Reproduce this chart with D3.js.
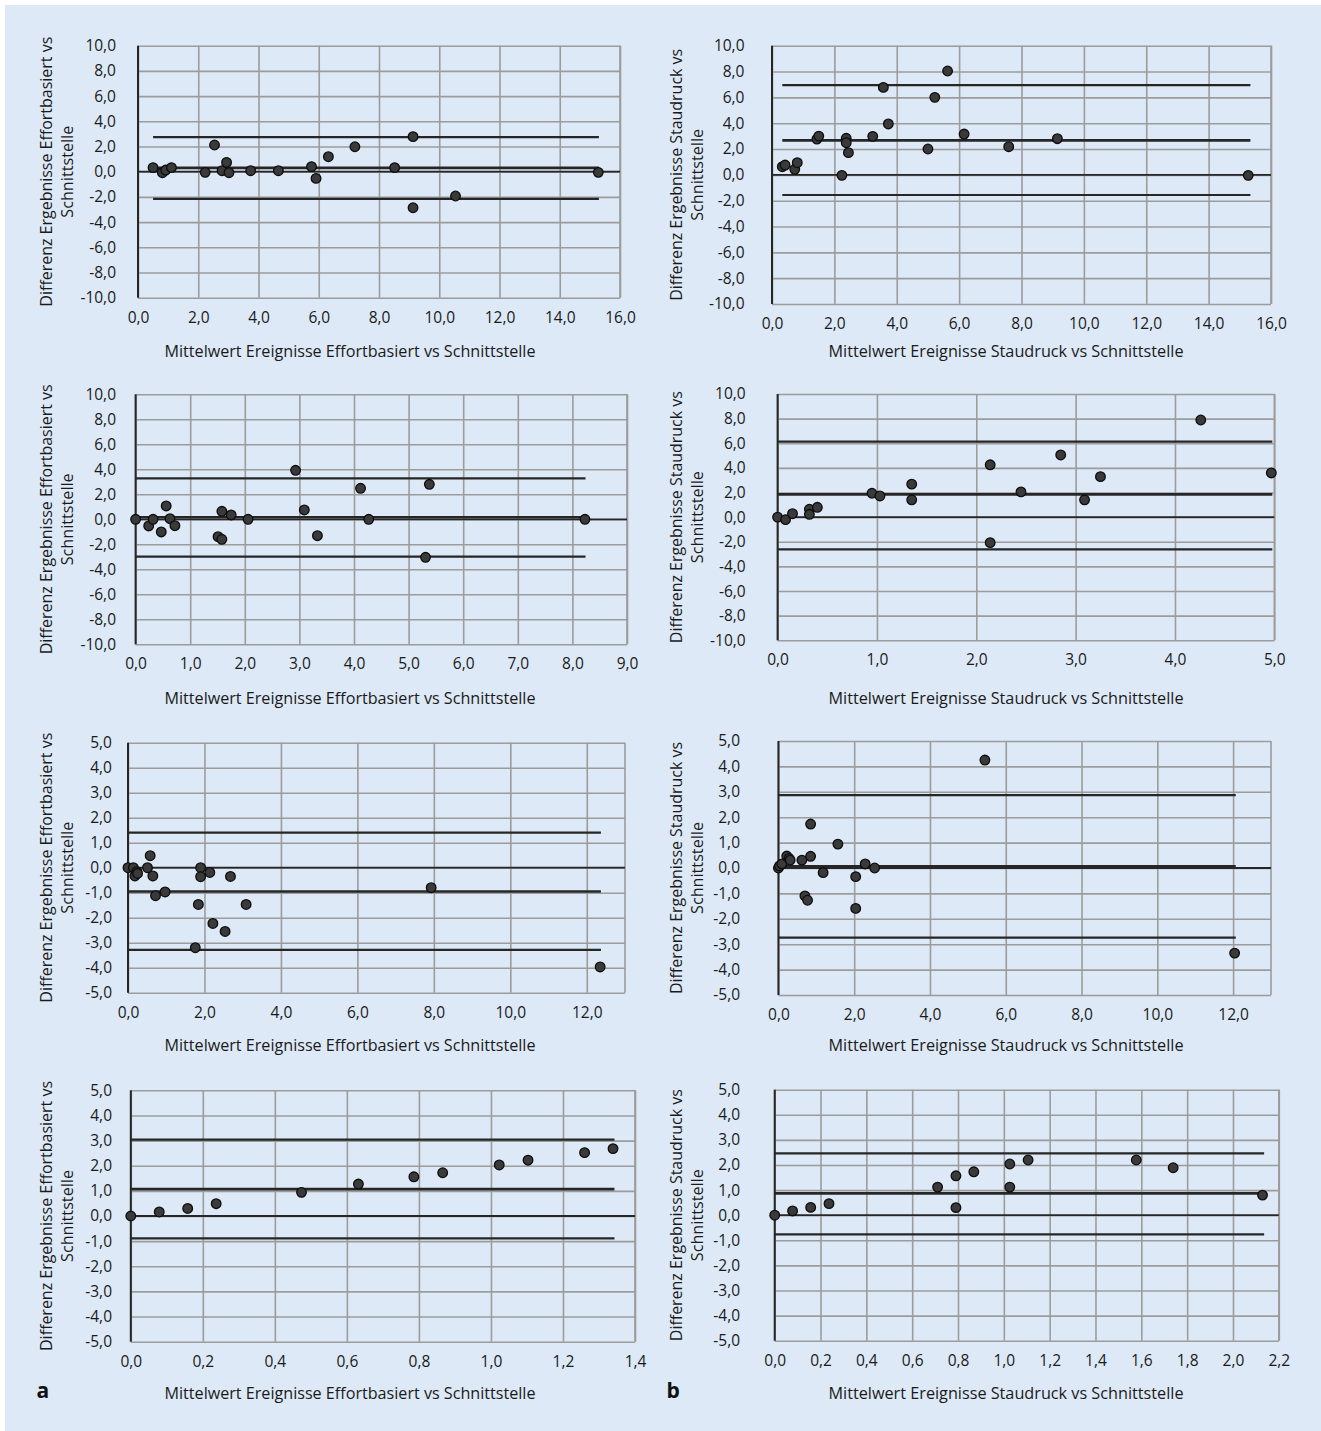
<!DOCTYPE html>
<html><head><meta charset="utf-8">
<script src="https://cdn.jsdelivr.net/npm/d3@7"></script>
<style>html,body{margin:0;padding:0;background:#fff}svg{display:block}</style>
</head><body>
<script>
// ---------- DATA ----------
const xTitleEffort = "Mittelwert Ereignisse Effortbasiert vs Schnittstelle";
const xTitleStau = "Mittelwert Ereignisse Staudruck vs Schnittstelle";
const yTitleEffort = ["Differenz Ergebnisse Effortbasiert vs", "Schnittstelle"];
const yTitleStau = ["Differenz Ergebnisse Staudruck vs", "Schnittstelle"];
const panelLetters = ["a", "b"];

const yTicks10 = [-10,-8,-6,-4,-2,0,2,4,6,8,10];
const yTicks5 = [-5,-4,-3,-2,-1,0,1,2,3,4,5];
const xTicks16 = [0,2,4,6,8,10,12,14,16];
const xTicks9 = [0,1,2,3,4,5,6,7,8,9];
const xTicks5 = [0,1,2,3,4,5];
const xTicks12 = [0,2,4,6,8,10,12];
const xTicks14 = [0,0.2,0.4,0.6,0.8,1.0,1.2,1.4];
const xTicks22 = [0,0.2,0.4,0.6,0.8,1.0,1.2,1.4,1.6,1.8,2.0,2.2];

// limits = [upper LoA, mean difference, lower LoA]; lineRange = x extent of those lines
const p1_x = [0.50,0.81,0.92,1.11,2.23,2.54,2.79,2.94,3.02,3.74,4.66,5.76,5.91,6.32,7.20,8.52,9.13,9.13,10.54,15.28];
const p1_y = [0.32,-0.08,0.13,0.32,-0.05,2.12,0.08,0.74,-0.08,0.08,0.08,0.40,-0.53,1.19,1.98,0.32,2.78,-2.86,-1.93,-0.05];
const p1_limits = [2.75, 0.30, -2.15];
const p1_lineRange = [0.5, 15.3];

const p2_x = [0.33,0.42,0.73,0.81,1.44,1.50,2.24,2.38,2.38,2.45,3.23,3.57,3.73,5.00,5.22,5.63,6.16,7.59,9.15,15.27];
const p2_y = [0.63,0.76,0.43,0.94,2.77,3.00,-0.04,2.83,2.49,1.72,2.98,6.77,3.94,2.00,6.00,8.04,3.16,2.18,2.80,-0.04];
const p2_limits = [6.95, 2.67, -1.56];
const p2_lineRange = [0.33, 15.34];

const p3_x = [0.0,0.24,0.32,0.47,0.56,0.63,0.72,1.51,1.58,1.58,1.75,2.06,2.93,3.09,3.33,4.12,4.27,5.31,5.38,8.23];
const p3_y = [0.0,-0.53,0.0,-1.01,1.07,0.05,-0.51,-1.39,-1.60,0.64,0.35,0.0,3.92,0.75,-1.31,2.48,0.0,-3.04,2.80,0.0];
const p3_limits = [3.28, 0.16, -2.99];
const p3_lineRange = [0, 8.24];

const p4_x = [0.0,0.08,0.15,0.32,0.32,0.40,0.95,1.03,1.35,1.35,2.14,2.14,2.45,2.85,3.09,3.25,4.26,4.97];
const p4_y = [0.0,-0.2,0.28,0.64,0.23,0.80,1.94,1.72,2.68,1.41,4.25,-2.07,2.05,5.05,1.41,3.29,7.89,3.59];
const p4_limits = [6.13, 1.85, -2.61];
const p4_lineRange = [0, 4.98];

const p5_x = [0.0,0.14,0.18,0.23,0.25,0.51,0.58,0.65,0.72,0.97,1.76,1.84,1.90,1.90,2.14,2.22,2.54,2.68,3.09,7.93,12.35];
const p5_y = [0.0,0.0,-0.33,-0.16,-0.23,0.0,0.48,-0.33,-1.12,-0.97,-3.2,-1.47,0.0,-0.36,-0.19,-2.23,-2.55,-0.35,-1.47,-0.8,-3.97];
const p5_limits = [1.40, -0.95, -3.29];
const p5_lineRange = [0, 12.37];

const p6_x = [0.0,0.03,0.09,0.22,0.28,0.31,0.62,0.70,0.77,0.85,0.85,1.18,1.57,2.04,2.04,2.29,2.54,5.45,12.04];
const p6_y = [0.0,0.08,0.16,0.47,0.38,0.31,0.31,-1.10,-1.27,1.73,0.46,-0.18,0.94,-0.34,-1.59,0.16,0.0,4.25,-3.35];
const p6_limits = [2.87, 0.07, -2.74];
const p6_lineRange = [0, 12.07];

const p7_x = [0.0,0.079,0.158,0.237,0.474,0.632,0.786,0.866,1.023,1.103,1.26,1.339];
const p7_y = [0.0,0.16,0.30,0.49,0.94,1.27,1.56,1.72,2.03,2.22,2.52,2.68];
const p7_limits = [3.04, 1.07, -0.89];
const p7_lineRange = [0, 1.343];

const p8_x = [0.0,0.078,0.157,0.237,0.711,0.791,0.791,0.869,1.026,1.026,1.106,1.578,1.739,2.129];
const p8_y = [0.0,0.17,0.31,0.46,1.12,1.57,0.30,1.73,2.04,1.12,2.20,2.20,1.89,0.80];
const p8_limits = [2.46, 0.87, -0.76];
const p8_lineRange = [0, 2.136];

// ---------- LAYOUT ----------
const W = 1321, H = 1431;
const panels = [
  {x:p1_x,y:p1_y,lim:p1_limits,rng:p1_lineRange,xd:[0,16],xt:xTicks16,yd:[-10,10],yt:yTicks10,L:138,R:620,T:45.7,B:297.7,lab:116,xt_t:xTitleEffort,yt_t:yTitleEffort,tcx:350,tcy:351.7,ytx:46,xtLen:371,ytLen:270},
  {x:p2_x,y:p2_y,lim:p2_limits,rng:p2_lineRange,xd:[0,16],xt:xTicks16,yd:[-10,10],yt:yTicks10,L:772,R:1271,T:45.7,B:304,lab:744.5,xt_t:xTitleStau,yt_t:yTitleStau,tcx:1006,tcy:351.7,ytx:676,xtLen:355,ytLen:252},
  {x:p3_x,y:p3_y,lim:p3_limits,rng:p3_lineRange,xd:[0,9],xt:xTicks9,yd:[-10,10],yt:yTicks10,L:135.6,R:627,T:394.3,B:644.3,lab:116,xt_t:xTitleEffort,yt_t:yTitleEffort,tcx:350,tcy:698,ytx:46,xtLen:371,ytLen:270},
  {x:p4_x,y:p4_y,lim:p4_limits,rng:p4_lineRange,xd:[0,5],xt:xTicks5,yd:[-10,10],yt:yTicks10,L:777.6,R:1274.3,T:394,B:640.3,lab:745.7,xt_t:xTitleStau,yt_t:yTitleStau,tcx:1006,tcy:698,ytx:676,xtLen:355,ytLen:252},
  {x:p5_x,y:p5_y,lim:p5_limits,rng:p5_lineRange,xd:[0,13],xt:xTicks12,yd:[-5,5],yt:yTicks5,L:128,R:625,T:742.7,B:992.7,lab:112,xt_t:xTitleEffort,yt_t:yTitleEffort,tcx:350,tcy:1045,ytx:46,xtLen:371,ytLen:270},
  {x:p6_x,y:p6_y,lim:p6_limits,rng:p6_lineRange,xd:[0,13],xt:xTicks12,yd:[-5,5],yt:yTicks5,L:778.4,R:1271,T:741,B:995,lab:740,xt_t:xTitleStau,yt_t:yTitleStau,tcx:1006,tcy:1045,ytx:676,xtLen:355,ytLen:252},
  {x:p7_x,y:p7_y,lim:p7_limits,rng:p7_lineRange,xd:[0,1.4],xt:xTicks14,yd:[-5,5],yt:yTicks5,L:130.8,R:635,T:1090.3,B:1341.7,lab:112,xt_t:xTitleEffort,yt_t:yTitleEffort,tcx:350,tcy:1393,ytx:46,xtLen:371,ytLen:270},
  {x:p8_x,y:p8_y,lim:p8_limits,rng:p8_lineRange,xd:[0,2.2],xt:xTicks22,yd:[-5,5],yt:yTicks5,L:774.7,R:1278.8,T:1089.7,B:1340.7,lab:740,xt_t:xTitleStau,yt_t:yTitleStau,tcx:1006,tcy:1393,ytx:676,xtLen:355,ytLen:252}
];

const BG = "#dde9f6", GRID = "#9c9c9c", DARK = "#262626";
const FONT = "'Open Sans', 'Noto Sans', sans-serif";
const fmt = v => (Math.round(v*10)/10).toFixed(1).replace('.', ',');

const svg = d3.select("body").append("svg").attr("width", W).attr("height", H);
svg.append("rect").attr("width", W).attr("height", H).attr("fill", "#ffffff");
svg.append("rect").attr("x", 5).attr("y", 5).attr("width", W-5).attr("height", H-5).attr("fill", BG);

panels.forEach(p => {
  const x = d3.scaleLinear().domain(p.xd).range([p.L, p.R]);
  const y = d3.scaleLinear().domain(p.yd).range([p.B, p.T]);
  const g = svg.append("g");
  const w = p.R - p.L, h = p.B - p.T;

  // Y axis with horizontal gridlines
  const ya = g.append("g").attr("transform", `translate(${p.L},0)`)
    .call(d3.axisLeft(y).tickValues(p.yt).tickFormat(fmt).tickSize(-w).tickPadding(p.L - p.lab));
  // X axis with vertical gridlines
  const xa = g.append("g").attr("transform", `translate(0,${p.B})`)
    .call(d3.axisBottom(x).tickValues(p.xt).tickFormat(fmt).tickSize(-h).tickPadding(14));
  [ya, xa].forEach(a => {
    a.select(".domain").remove();
    a.selectAll(".tick line").attr("stroke", GRID).attr("stroke-width", 1.6);
    a.selectAll(".tick text").attr("fill", "#1a1a1a").style("font-family", FONT).style("font-size", "15.5px");
  });
  // right border
  g.append("line").attr("x1", x(p.xd[1])).attr("x2", x(p.xd[1])).attr("y1", p.T).attr("y2", p.B)
    .attr("stroke", GRID).attr("stroke-width", 1.6);
  // zero line (x axis) and left axis
  g.append("line").attr("x1", p.L).attr("x2", p.R).attr("y1", y(0)).attr("y2", y(0))
    .attr("stroke", DARK).attr("stroke-width", 1.8);
  g.append("line").attr("x1", p.L).attr("x2", p.L).attr("y1", p.T).attr("y2", p.B)
    .attr("stroke", DARK).attr("stroke-width", 2);

  // limit / mean lines
  g.selectAll("line.lim").data(p.lim).enter().append("line").attr("class", "lim")
    .attr("x1", x(p.rng[0])).attr("x2", x(p.rng[1]))
    .attr("y1", d => y(d)).attr("y2", d => y(d))
    .attr("stroke", DARK).attr("stroke-width", (d, i) => i === 1 ? 2.6 : 2.2);

  // points
  g.selectAll("circle").data(p.x.map((v, i) => [v, p.y[i]])).enter().append("circle")
    .attr("cx", d => x(d[0])).attr("cy", d => y(d[1])).attr("r", 4.8)
    .attr("fill", "#3a3a3a").attr("stroke", "#0d0d0d").attr("stroke-width", 1.3);

  // x title
  g.append("text").attr("x", p.tcx).attr("y", p.tcy).attr("dy", "0.35em").attr("text-anchor", "middle")
    .attr("textLength", p.xtLen).attr("lengthAdjust", "spacingAndGlyphs")
    .style("font-family", FONT).style("font-size", "16px").attr("fill", "#1a1a1a").text(p.xt_t);
  // y title (two lines, rotated)
  const cy = (p.T + p.B) / 2;
  [0, 1].forEach(k => {
    g.append("text").attr("transform", `translate(${p.ytx + k*21.6},${cy}) rotate(-90)`)
      .attr("dy", "0.35em").attr("text-anchor", "middle")
      .attr("textLength", k === 0 ? p.ytLen : 92).attr("lengthAdjust", "spacingAndGlyphs")
      .style("font-family", FONT).style("font-size", "16px").attr("fill", "#1a1a1a").text(p.yt_t[k]);
  });
});

// panel letters
svg.selectAll("text.letter").data(panelLetters).enter().append("text").attr("class", "letter")
  .attr("x", (d, i) => i === 0 ? 36.5 : 666.5).attr("y", 1397.5)
  .style("font-family", FONT).style("font-size", "21px").style("font-weight", "bold")
  .attr("fill", "#111").text(d => d);
</script>
</body></html>
